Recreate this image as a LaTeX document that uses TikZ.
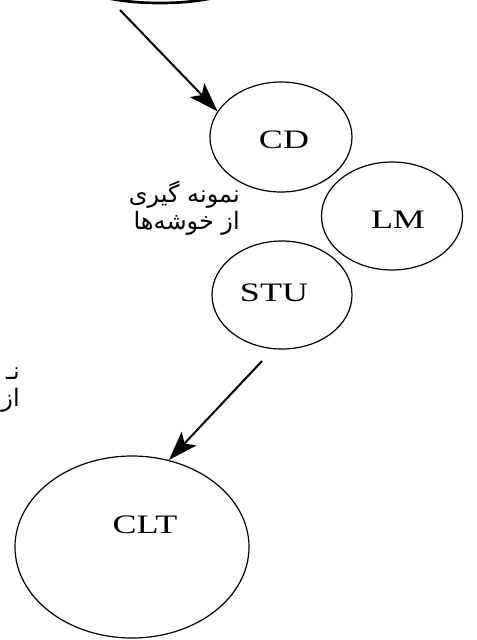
\documentclass[tikz,border=0pt]{standalone}
\usepackage{fontspec}
\usepackage{graphicx}
\setmainfont{Liberation Serif}
\newfontfamily\fafont[Script=Arabic]{DejaVu Sans}
\TeXXeTstate=1
\usetikzlibrary{shapes.geometric,arrows.meta}
\newcommand\widetxt[1]{\scalebox{1.35}[1]{#1}}
\begin{document}
\begin{tikzpicture}[x=0.75pt,y=-0.75pt,
  circ/.style={draw, ellipse, line width=0.9pt, inner sep=0pt},
  lbl/.style={font=\fontsize{20}{24}\selectfont, inner sep=0pt},
  falbl/.style={font=\fafont\fontsize{18}{20}\selectfont, align=right, inner sep=0pt},
  arr/.style={line width=1.5pt, -{Stealth[length=22pt,width=15pt,inset=5pt]}}]
\useasboundingbox (0,0) rectangle (477,640);
\clip (0,0) rectangle (477,640);
% top partial ellipse
\node[circ, line width=2pt, minimum width=120pt, minimum height=30pt] (top) at (160,-17) {};
% circles
\node[circ, minimum width=106.5pt, minimum height=82.5pt] (cd) at (281,137) {};
\node[circ, minimum width=105.75pt, minimum height=81pt] (lm) at (392,216) {};
\node[circ, minimum width=105pt, minimum height=81pt] (stu) at (282,295) {};
\node[circ, minimum width=175.5pt, minimum height=136.5pt] (clt) at (132,547) {};
% labels
\node[lbl] (cdt) at (284,140) {\widetxt{CD}};
\node[lbl] (lmt) at (398,220) {\widetxt{LM}};
\node[lbl] (stut) at (274,293) {\widetxt{STU}};
\node[lbl] (cltt) at (145,525) {\widetxt{CLT}};
% persian labels
\node[falbl, anchor=north east] (fa1) at (240,181) {\beginR نمونه گیری\endR\\\beginR از خوشه‌ها\endR};
\node[falbl, anchor=north east] (fa2) at (20,368) {\beginR نـ\endR\\\beginR از\endR};
% arrows
\coordinate (s1) at (120,10);
\coordinate (s2) at (262,361);
\draw[arr] (s1) -- (cd.158);
\draw[arr] (s2) -- (clt.67);
\end{tikzpicture}
\end{document}
